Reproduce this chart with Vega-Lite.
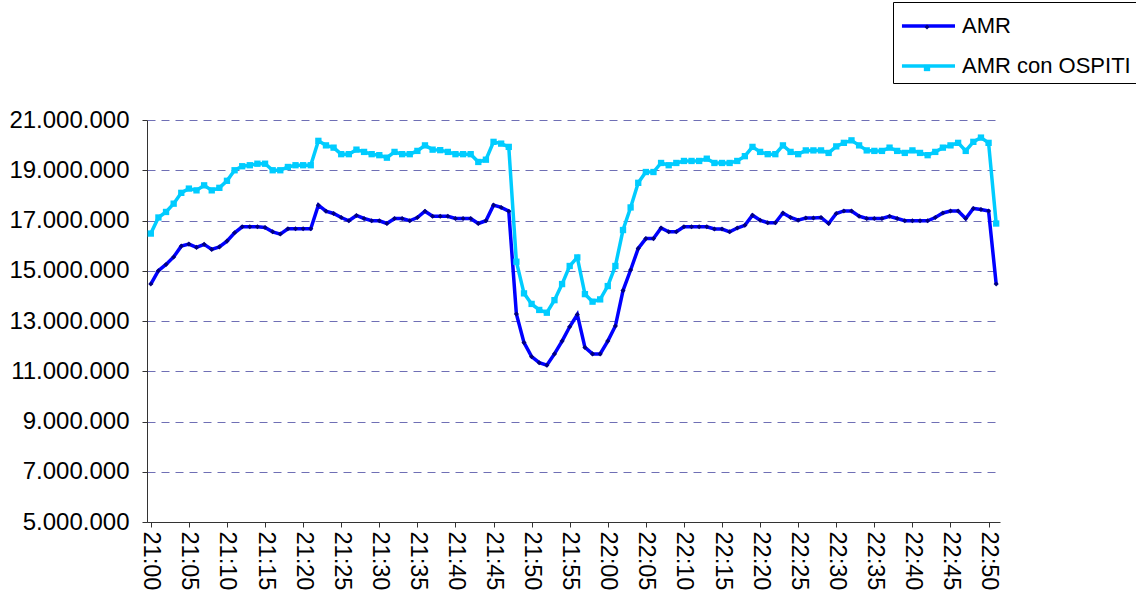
{
  "$schema": "https://vega.github.io/schema/vega-lite/v6.json",
  "width": 853,
  "height": 402,
  "autosize": "none",
  "padding": {"left": 147, "top": 120, "right": 136, "bottom": 79},
  "background": "white",
  "config": {
    "view": {"stroke": null},
    "font": "Liberation Sans"
  },
  "data": {"values": [
    {"t":"21:00","AMR":14470000,"AMR con OSPITI":16480000},
    {"t":"21:01","AMR":15000000,"AMR con OSPITI":17120000},
    {"t":"21:02","AMR":15250000,"AMR con OSPITI":17340000},
    {"t":"21:03","AMR":15550000,"AMR con OSPITI":17670000},
    {"t":"21:04","AMR":15980000,"AMR con OSPITI":18100000},
    {"t":"21:05","AMR":16060000,"AMR con OSPITI":18270000},
    {"t":"21:06","AMR":15930000,"AMR con OSPITI":18200000},
    {"t":"21:07","AMR":16050000,"AMR con OSPITI":18400000},
    {"t":"21:08","AMR":15850000,"AMR con OSPITI":18200000},
    {"t":"21:09","AMR":15950000,"AMR con OSPITI":18300000},
    {"t":"21:10","AMR":16180000,"AMR con OSPITI":18580000},
    {"t":"21:11","AMR":16510000,"AMR con OSPITI":19000000},
    {"t":"21:12","AMR":16750000,"AMR con OSPITI":19160000},
    {"t":"21:13","AMR":16750000,"AMR con OSPITI":19200000},
    {"t":"21:14","AMR":16750000,"AMR con OSPITI":19260000},
    {"t":"21:15","AMR":16720000,"AMR con OSPITI":19260000},
    {"t":"21:16","AMR":16550000,"AMR con OSPITI":19000000},
    {"t":"21:17","AMR":16460000,"AMR con OSPITI":19000000},
    {"t":"21:18","AMR":16670000,"AMR con OSPITI":19130000},
    {"t":"21:19","AMR":16670000,"AMR con OSPITI":19200000},
    {"t":"21:20","AMR":16670000,"AMR con OSPITI":19200000},
    {"t":"21:21","AMR":16670000,"AMR con OSPITI":19200000},
    {"t":"21:22","AMR":17610000,"AMR con OSPITI":20170000},
    {"t":"21:23","AMR":17370000,"AMR con OSPITI":19990000},
    {"t":"21:24","AMR":17280000,"AMR con OSPITI":19900000},
    {"t":"21:25","AMR":17120000,"AMR con OSPITI":19640000},
    {"t":"21:26","AMR":16990000,"AMR con OSPITI":19640000},
    {"t":"21:27","AMR":17200000,"AMR con OSPITI":19820000},
    {"t":"21:28","AMR":17080000,"AMR con OSPITI":19730000},
    {"t":"21:29","AMR":16990000,"AMR con OSPITI":19640000},
    {"t":"21:30","AMR":16990000,"AMR con OSPITI":19600000},
    {"t":"21:31","AMR":16880000,"AMR con OSPITI":19500000},
    {"t":"21:32","AMR":17080000,"AMR con OSPITI":19730000},
    {"t":"21:33","AMR":17080000,"AMR con OSPITI":19640000},
    {"t":"21:34","AMR":16990000,"AMR con OSPITI":19640000},
    {"t":"21:35","AMR":17120000,"AMR con OSPITI":19770000},
    {"t":"21:36","AMR":17370000,"AMR con OSPITI":19990000},
    {"t":"21:37","AMR":17170000,"AMR con OSPITI":19820000},
    {"t":"21:38","AMR":17170000,"AMR con OSPITI":19800000},
    {"t":"21:39","AMR":17170000,"AMR con OSPITI":19730000},
    {"t":"21:40","AMR":17080000,"AMR con OSPITI":19640000},
    {"t":"21:41","AMR":17080000,"AMR con OSPITI":19640000},
    {"t":"21:42","AMR":17080000,"AMR con OSPITI":19640000},
    {"t":"21:43","AMR":16880000,"AMR con OSPITI":19330000},
    {"t":"21:44","AMR":16990000,"AMR con OSPITI":19420000},
    {"t":"21:45","AMR":17610000,"AMR con OSPITI":20130000},
    {"t":"21:46","AMR":17520000,"AMR con OSPITI":20060000},
    {"t":"21:47","AMR":17370000,"AMR con OSPITI":19930000},
    {"t":"21:48","AMR":13280000,"AMR con OSPITI":15360000},
    {"t":"21:49","AMR":12140000,"AMR con OSPITI":14100000},
    {"t":"21:50","AMR":11580000,"AMR con OSPITI":13680000},
    {"t":"21:51","AMR":11340000,"AMR con OSPITI":13440000},
    {"t":"21:52","AMR":11240000,"AMR con OSPITI":13330000},
    {"t":"21:53","AMR":11690000,"AMR con OSPITI":13830000},
    {"t":"21:54","AMR":12200000,"AMR con OSPITI":14470000},
    {"t":"21:55","AMR":12770000,"AMR con OSPITI":15190000},
    {"t":"21:56","AMR":13260000,"AMR con OSPITI":15530000},
    {"t":"21:57","AMR":11950000,"AMR con OSPITI":14070000},
    {"t":"21:58","AMR":11690000,"AMR con OSPITI":13770000},
    {"t":"21:59","AMR":11690000,"AMR con OSPITI":13860000},
    {"t":"22:00","AMR":12200000,"AMR con OSPITI":14390000},
    {"t":"22:01","AMR":12800000,"AMR con OSPITI":15190000},
    {"t":"22:02","AMR":14210000,"AMR con OSPITI":16620000},
    {"t":"22:03","AMR":15030000,"AMR con OSPITI":17520000},
    {"t":"22:04","AMR":15890000,"AMR con OSPITI":18500000},
    {"t":"22:05","AMR":16280000,"AMR con OSPITI":18930000},
    {"t":"22:06","AMR":16280000,"AMR con OSPITI":18930000},
    {"t":"22:07","AMR":16700000,"AMR con OSPITI":19290000},
    {"t":"22:08","AMR":16550000,"AMR con OSPITI":19200000},
    {"t":"22:09","AMR":16550000,"AMR con OSPITI":19290000},
    {"t":"22:10","AMR":16750000,"AMR con OSPITI":19370000},
    {"t":"22:11","AMR":16750000,"AMR con OSPITI":19370000},
    {"t":"22:12","AMR":16750000,"AMR con OSPITI":19370000},
    {"t":"22:13","AMR":16750000,"AMR con OSPITI":19460000},
    {"t":"22:14","AMR":16660000,"AMR con OSPITI":19290000},
    {"t":"22:15","AMR":16660000,"AMR con OSPITI":19290000},
    {"t":"22:16","AMR":16550000,"AMR con OSPITI":19290000},
    {"t":"22:17","AMR":16700000,"AMR con OSPITI":19370000},
    {"t":"22:18","AMR":16810000,"AMR con OSPITI":19560000},
    {"t":"22:19","AMR":17210000,"AMR con OSPITI":19930000},
    {"t":"22:20","AMR":17010000,"AMR con OSPITI":19730000},
    {"t":"22:21","AMR":16910000,"AMR con OSPITI":19640000},
    {"t":"22:22","AMR":16910000,"AMR con OSPITI":19640000},
    {"t":"22:23","AMR":17300000,"AMR con OSPITI":19990000},
    {"t":"22:24","AMR":17120000,"AMR con OSPITI":19730000},
    {"t":"22:25","AMR":17010000,"AMR con OSPITI":19640000},
    {"t":"22:26","AMR":17100000,"AMR con OSPITI":19790000},
    {"t":"22:27","AMR":17100000,"AMR con OSPITI":19790000},
    {"t":"22:28","AMR":17120000,"AMR con OSPITI":19790000},
    {"t":"22:29","AMR":16880000,"AMR con OSPITI":19690000},
    {"t":"22:30","AMR":17280000,"AMR con OSPITI":19950000},
    {"t":"22:31","AMR":17380000,"AMR con OSPITI":20090000},
    {"t":"22:32","AMR":17380000,"AMR con OSPITI":20190000},
    {"t":"22:33","AMR":17170000,"AMR con OSPITI":19990000},
    {"t":"22:34","AMR":17080000,"AMR con OSPITI":19790000},
    {"t":"22:35","AMR":17080000,"AMR con OSPITI":19770000},
    {"t":"22:36","AMR":17080000,"AMR con OSPITI":19770000},
    {"t":"22:37","AMR":17170000,"AMR con OSPITI":19900000},
    {"t":"22:38","AMR":17080000,"AMR con OSPITI":19770000},
    {"t":"22:39","AMR":16990000,"AMR con OSPITI":19690000},
    {"t":"22:40","AMR":16990000,"AMR con OSPITI":19790000},
    {"t":"22:41","AMR":16990000,"AMR con OSPITI":19690000},
    {"t":"22:42","AMR":16990000,"AMR con OSPITI":19600000},
    {"t":"22:43","AMR":17120000,"AMR con OSPITI":19730000},
    {"t":"22:44","AMR":17300000,"AMR con OSPITI":19900000},
    {"t":"22:45","AMR":17380000,"AMR con OSPITI":19990000},
    {"t":"22:46","AMR":17380000,"AMR con OSPITI":20090000},
    {"t":"22:47","AMR":17080000,"AMR con OSPITI":19770000},
    {"t":"22:48","AMR":17480000,"AMR con OSPITI":20130000},
    {"t":"22:49","AMR":17440000,"AMR con OSPITI":20300000},
    {"t":"22:50","AMR":17380000,"AMR con OSPITI":20090000},
    {"t":"22:51","AMR":14470000,"AMR con OSPITI":16880000}
  ]},
  "encoding": {
    "x": {
      "field": "t", "type": "ordinal", "sort": null,
      "scale": {"type": "point", "padding": 0.5},
      "axis": {
        "title": null,
        "values": ["21:00","21:05","21:10","21:15","21:20","21:25","21:30","21:35","21:40","21:45","21:50","21:55","22:00","22:05","22:10","22:15","22:20","22:25","22:30","22:35","22:40","22:45","22:50"],
        "labelAngle": 90,
        "labelFontSize": 23.5,
        "labelColor": "black",
        "labelPadding": 4,
        "domainColor": "#333333",
        "tickColor": "#333333",
        "tickSize": 5,
        "grid": false
      }
    },
    "y": {
      "field": "v", "type": "quantitative",
      "scale": {"domain": [5000000, 21000000], "nice": false, "zero": false},
      "axis": {
        "title": null,
        "values": [5000000, 7000000, 9000000, 11000000, 13000000, 15000000, 17000000, 19000000, 21000000],
        "labelExpr": "replace(format(datum.value, ','), /,/g, '.')",
        "labelFontSize": 24,
        "labelColor": "black",
        "labelPadding": 13,
        "tickSize": 5,
        "domainColor": "#333333",
        "tickColor": "#333333",
        "grid": true,
        "gridColor": "#6f6fb5",
        "gridDash": [8, 6],
        "gridWidth": 1
      }
    }
  },
  "layer": [
    {
      "transform": [{"fold": ["AMR", "AMR con OSPITI"], "as": ["serie", "v"]}],
      "mark": {"type": "line", "strokeWidth": 3.5},
      "encoding": {
        "color": {
          "field": "serie", "type": "nominal",
          "scale": {"range": ["#0000ff", "#00ccff"]},
          "legend": {
            "orient": "none",
            "legendX": 746,
            "legendY": -118,
            "title": null,
            "symbolType": "M-0.94,0H2.375",
            "symbolSize": 1024,
            "symbolStrokeWidth": 3.5,
            "labelFontSize": 22,
            "labelColor": "black",
            "labelOffset": 27,
            "labelLimit": 400,
            "strokeColor": "black",
            "fillColor": "white",
            "padding": 6,
            "rowPadding": 11
          }
        }
      }
    },
    {
      "transform": [{"fold": ["AMR", "AMR con OSPITI"], "as": ["punti", "v"]}],
      "mark": {"type": "point", "filled": true, "opacity": 1, "strokeWidth": 0},
      "encoding": {
        "shape": {
          "field": "punti", "type": "nominal",
          "scale": {"domain": ["AMR", "AMR con OSPITI"], "range": ["diamond", "square"]},
          "legend": {
            "orient": "none",
            "legendX": 769,
            "legendY": -104,
            "title": null,
            "labelOpacity": 0,
            "labelFontSize": 22,
            "labelLimit": 400,
            "padding": 0,
            "rowPadding": 19,
            "symbolStrokeWidth": 0
          }
        },
        "fill": {
          "field": "punti", "type": "nominal",
          "scale": {"domain": ["AMR", "AMR con OSPITI"], "range": ["#000080", "#00ccff"]}
        },
        "size": {
          "field": "punti", "type": "nominal",
          "scale": {"domain": ["AMR", "AMR con OSPITI"], "range": [26, 40]}
        }
      }
    }
  ]
}
